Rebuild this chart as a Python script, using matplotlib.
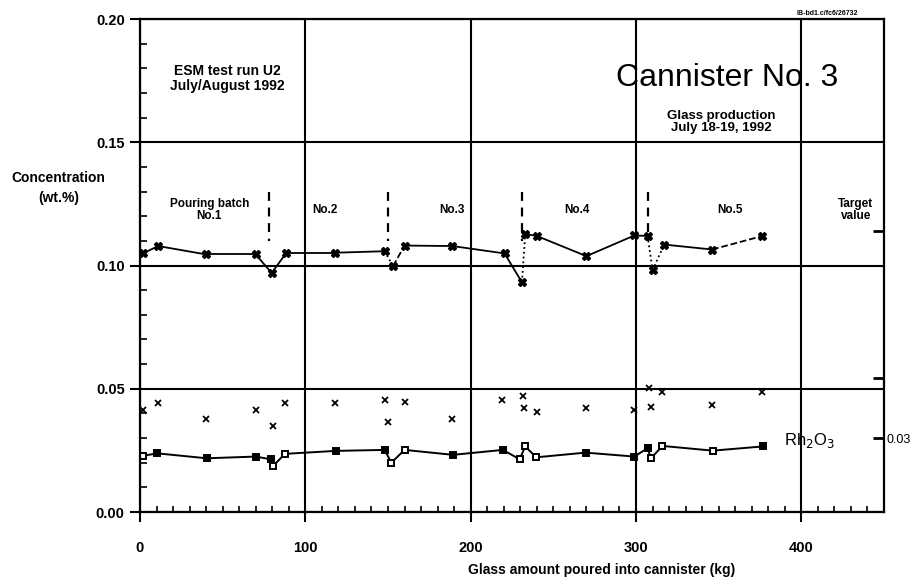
import numpy as np
import matplotlib
matplotlib.use("Agg")
import matplotlib.pyplot as plt
from matplotlib.ticker import MultipleLocator

plt.rcParams['font.family'] = ['Liberation Sans', 'DejaVu Sans']

# upper oxide (about 0.10 wt.%)
up_x = [2, 11, 40, 70, 79.6, 88.6, 118, 148, 153, 160, 189, 220.5, 231, 233,
        240, 270, 299, 307, 310, 317, 346, 376]
up_y = [0.1050, 0.1079, 0.1045, 0.1045, 0.0970, 0.1052, 0.1052, 0.1058, 0.0997,
        0.1081, 0.1079, 0.1049, 0.0932, 0.1128, 0.1120, 0.1038, 0.1122, 0.1120,
        0.0981, 0.1085, 0.1065, 0.1119]
# links between samples that are not solid
up_links = {7: ':', 8: '--', 12: ':', 17: ':', 18: ':', 20: '--'}

# middle oxide, only fragments left in the scan
mid_x = [2, 11, 40, 70, 80.6, 87.6, 118, 148, 150, 160, 189, 219, 231.6, 232,
         240, 270, 299, 308, 309, 316, 346, 376]
mid_y = [0.0415, 0.0444, 0.0378, 0.0412, 0.0347, 0.0442, 0.0442, 0.0455, 0.0367,
         0.0448, 0.0377, 0.0455, 0.0469, 0.0421, 0.0404, 0.0421, 0.0415, 0.0504,
         0.0428, 0.0488, 0.0435, 0.0485]

# Rh2O3
rh_x = [1.6, 10.5, 40.3, 70, 79, 80.6, 87.6, 118.4, 148, 152, 160, 189.3, 219.5,
        229.6, 233, 239.7, 269.5, 299, 307, 309, 316, 346.4, 376.6]
rh_y = [0.0228, 0.0238, 0.0218, 0.0225, 0.0214, 0.0187, 0.0236, 0.0248, 0.0252,
        0.0200, 0.0252, 0.0232, 0.0252, 0.0214, 0.0266, 0.0222, 0.0241, 0.0225,
        0.0259, 0.0218, 0.0268, 0.0249, 0.0266]
rh_hollow = [1, 0, 0, 0, 0, 1, 1, 0, 0, 1, 1, 0, 0, 1, 1, 1, 0, 0, 0, 1, 1, 1, 0]

batch_bounds = [78, 150, 230.8, 307.5]
batch_labels = ["Pouring batch\nNo.1", "No.2", "No.3", "No.4", "No.5", "Target\nvalue"]
batch_label_x = [42, 112, 188.5, 264, 357, 433]
targets = [0.114, 0.0545, 0.03]
target_labels = ["", "", "0.03"]

fig = plt.figure(figsize=(9.18, 5.8), dpi=100)
ax = fig.add_axes([0.1525, 0.1172, 0.8105, 0.85])
ax.set_xlim(0, 450)
ax.set_ylim(0, 0.20)

ax.xaxis.set_major_locator(MultipleLocator(100))
ax.xaxis.set_minor_locator(MultipleLocator(10))
ax.yaxis.set_major_locator(MultipleLocator(0.05))
ax.yaxis.set_minor_locator(MultipleLocator(0.01))
ax.set_yticklabels([f"{v:.2f}" for v in ax.get_yticks()])
ax.grid(True, which='major', color='black', lw=1.5)
ax.set_axisbelow(True)
for s in ax.spines.values():
    s.set_linewidth(1.6)

ax.tick_params(axis='y', which='major', direction='out', length=7, width=1.5,
               labelsize=10.5, pad=4)
ax.tick_params(axis='x', which='major', direction='out', length=7, width=1.5,
               labelsize=10.5, pad=14)
ax.tick_params(axis='y', which='minor', direction='in', length=5, width=1.2)
ax.tick_params(axis='x', which='minor', direction='in', length=4, width=1.2)
for lab in ax.get_xticklabels() + ax.get_yticklabels():
    lab.set_fontweight('bold')

# upper series
for i in range(len(up_x) - 1):
    ax.plot(up_x[i:i + 2], up_y[i:i + 2], color='black', lw=1.3,
            ls=up_links.get(i, '-'))
ax.plot(up_x, up_y, ls='none', marker='X', ms=6, color='black')

# middle series
ax.plot(mid_x, mid_y, ls='none', marker='x', ms=5, mew=1.3, color='black')

# Rh2O3 series
ax.plot(rh_x, rh_y, color='black', lw=1.4)
for x, y, h in zip(rh_x, rh_y, rh_hollow):
    ax.plot(x, y, marker='s', ms=4.8, mew=1.4, color='black',
            mfc='white' if h else 'black')

# pouring batch separators
for b in batch_bounds:
    ax.plot([b, b], [0.130, 0.110], color='black', lw=1.6, ls=(0, (4, 3)))

for lab, x in zip(batch_labels, batch_label_x):
    ax.text(x, 0.1225, lab, ha='center', va='center', fontsize=8.5,
            fontweight='bold', linespacing=1.0)

ax.text(52.6, 0.176, "ESM test run U2\nJuly/August 1992", ha='center', va='center',
        fontsize=10, fontweight='bold', linespacing=1.1)
ax.text(355, 0.176, "Cannister No. 3", ha='center', va='center', fontsize=23)
ax.text(351.4, 0.1583, "Glass production\nJuly 18-19, 1992", ha='center',
        va='center', fontsize=9.5, fontweight='bold', linespacing=1.0)
ax.text(389.6, 0.0292, r"Rh$_2$O$_3$", ha='left', va='center', fontsize=12)

# target value marks on the right spine
ax2 = ax.twinx()
ax2.set_ylim(0, 0.20)
ax2.set_yticks(targets)
ax2.set_yticklabels(target_labels)
ax2.tick_params(axis='y', direction='in', length=8, width=2, labelsize=9, pad=2)
for s in ax2.spines.values():
    s.set_visible(False)

fig.text(0.064, 0.676, "Concentration\n(wt.%)", ha='center', va='center',
         fontsize=10, fontweight='bold', linespacing=1.6)
fig.text(0.655, 0.017, "Glass amount poured into cannister (kg)", ha='center',
         va='center', fontsize=10, fontweight='bold')
fig.text(0.901, 0.976, "IB-bd1.c/fc6/26732", ha='center', va='center',
         fontsize=5, fontweight='bold')

fig.savefig("out.png", dpi=100)
